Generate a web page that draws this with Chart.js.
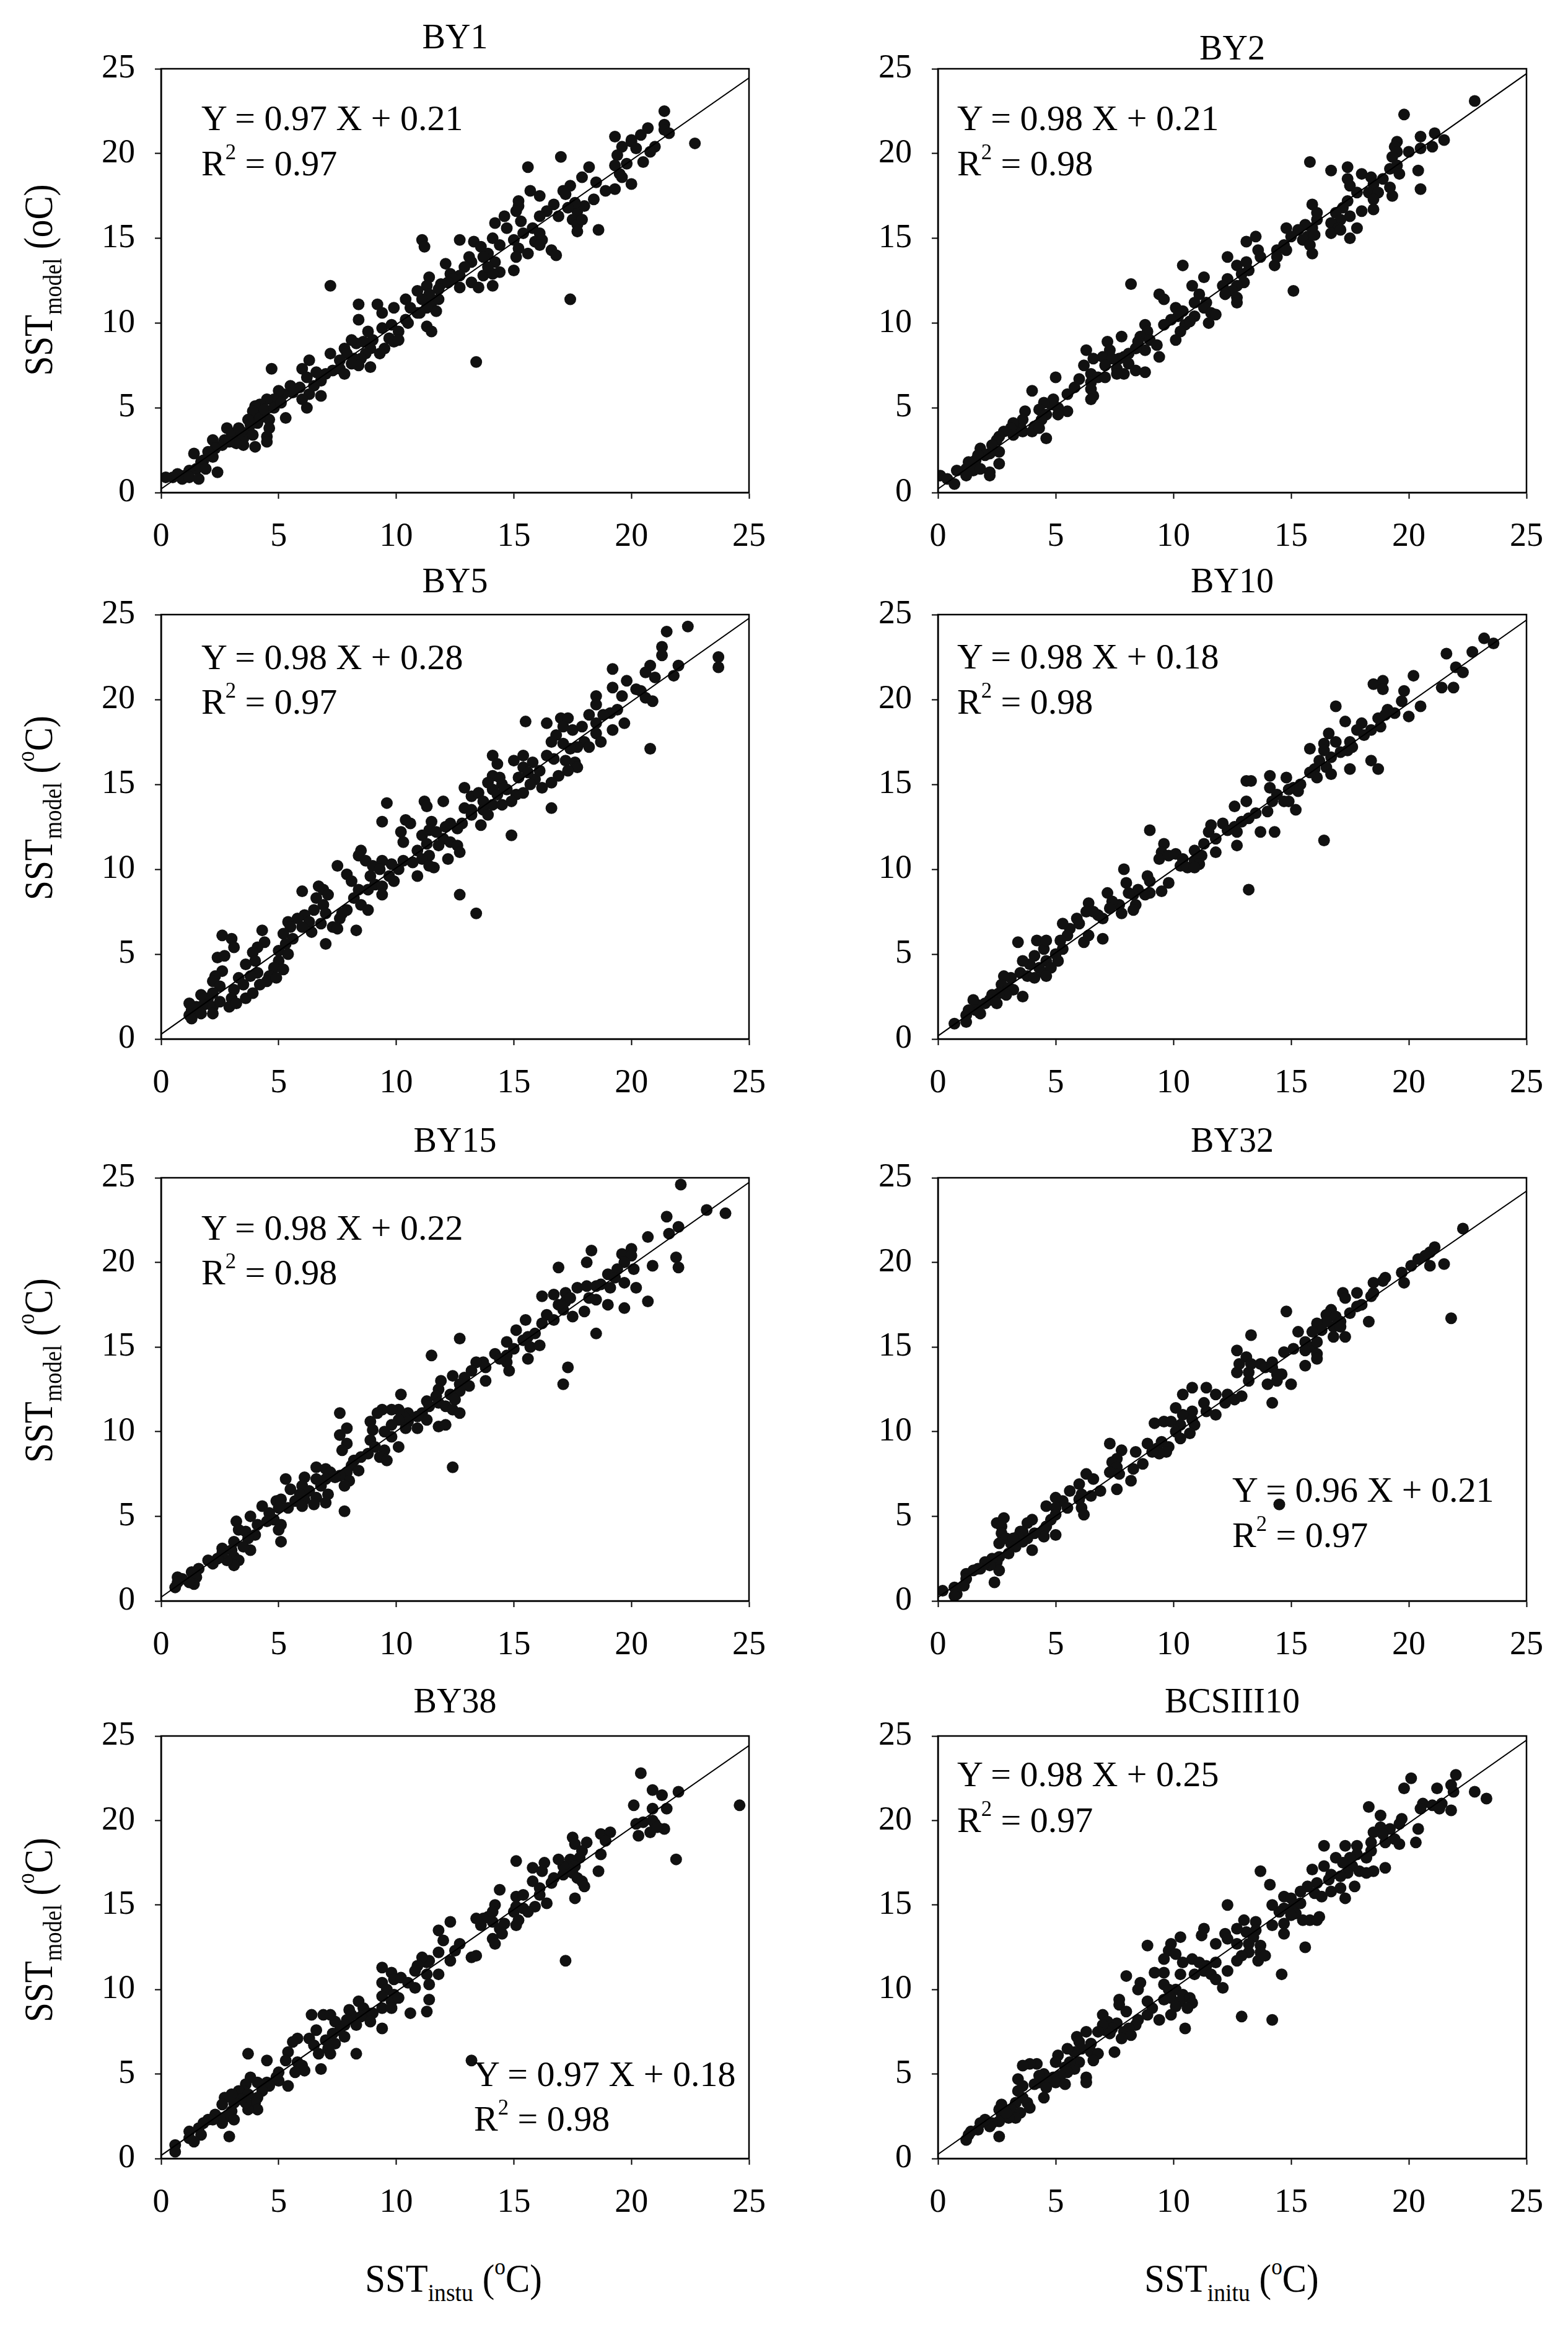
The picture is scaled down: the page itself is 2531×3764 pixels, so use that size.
<!DOCTYPE html>
<html>
<head>
<meta charset="utf-8">
<script src="https://cdn.jsdelivr.net/npm/chart.js@4.4.1/dist/chart.umd.min.js"></script>
<style>
html,body{margin:0;padding:0;background:#fff;}
#wrap{position:relative;width:2531px;height:3764px;background:#fff;overflow:hidden;}
canvas{position:absolute;}
.txt{position:absolute;font-family:'Liberation Serif','Times New Roman',serif;color:#000;white-space:nowrap;line-height:1;}
.txt sup{font-size:0.6em;vertical-align:baseline;position:relative;top:-0.75em;}
.txt sub{font-size:0.64em;vertical-align:baseline;position:relative;top:0.35em;}
</style>
</head>
<body>
<div id="wrap"></div>
<script>
// ---------------- data ----------------
const titles = ['BY1','BY2','BY5','BY10','BY15','BY32','BY38','BCSIII10'];
const slopes = [0.97,0.98,0.98,0.98,0.98,0.96,0.97,0.98];
const intercepts = [0.21,0.21,0.28,0.18,0.22,0.21,0.18,0.25];
const r2 = [0.97,0.98,0.97,0.98,0.98,0.97,0.98,0.97];
const axisMin = 0, axisMax = 25, axisStep = 5;

const by1 = [[21.4,22.5],[21.4,21.7],[21.4,21.4],[21.6,21.2],[22.7,20.6],[20.7,21.5],[20.4,21.1],[19.3,21.0],[20.0,20.8],[20.0,20.7],[21.0,20.4],[20.8,20.1],[20.5,19.5],[19.6,20.4],[19.4,19.9],[19.3,19.3],[19.8,19.4],[20.2,20.3],[19.5,18.8],[20.0,18.2],[19.6,18.6],[17.0,19.8],[15.6,19.2],[18.2,19.2],[17.9,18.6],[17.4,18.1],[17.1,17.8],[18.5,18.3],[18.9,17.8],[19.3,17.9],[18.4,17.3],[17.7,16.6],[18.0,16.9],[15.7,17.8],[16.1,17.5],[15.2,17.2],[15.2,16.9],[17.2,17.6],[17.6,17.1],[17.3,16.8],[16.7,17.0],[16.4,16.6],[16.1,16.3],[16.9,16.3],[17.5,16.1],[17.7,15.8],[17.9,16.1],[18.6,15.5],[17.7,15.4],[14.6,16.3],[14.2,15.9],[15.1,16.6],[15.3,16.0],[14.7,15.6],[15.4,15.3],[15.8,15.6],[16.1,15.3],[15.9,14.8],[16.2,14.9],[14.1,15.0],[14.4,14.6],[15.0,14.9],[15.2,14.4],[15.6,14.1],[16.1,14.6],[16.6,14.3],[16.8,14.0],[13.3,14.8],[13.6,14.5],[13.9,14.1],[14.2,13.6],[13.7,13.9],[13.2,13.6],[12.7,14.9],[11.1,14.9],[11.2,14.5],[15.1,13.9],[15.0,13.1],[14.4,13.0],[14.1,12.2],[13.1,13.9],[12.9,13.3],[12.7,12.8],[12.7,12.1],[13.2,12.4],[13.5,12.1],[13.7,12.8],[13.9,13.3],[14.1,12.9],[12.1,13.5],[12.3,12.9],[12.4,12.6],[11.9,12.3],[11.8,12.0],[12.2,12.4],[11.4,12.7],[11.3,12.2],[10.9,11.9],[11.4,11.7],[11.1,11.4],[11.5,11.2],[11.7,10.7],[11.8,11.4],[11.3,10.9],[11.0,10.6],[11.3,9.8],[11.5,9.5],[17.4,11.4],[13.4,7.7],[7.2,12.2],[8.4,11.1],[8.4,10.2],[9.2,11.1],[9.4,10.6],[9.9,10.9],[10.4,11.4],[10.6,10.9],[10.9,10.6],[10.4,10.2],[10.5,10.0],[9.4,9.7],[9.8,9.9],[10.1,9.5],[9.7,9.1],[9.9,8.9],[9.5,8.5],[10.1,9.0],[8.8,9.5],[9.0,9.0],[8.6,8.9],[8.9,8.5],[9.3,8.2],[8.7,8.2],[8.5,7.9],[8.3,8.8],[7.8,8.5],[8.1,9.0],[7.9,8.2],[8.2,7.9],[8.4,7.5],[7.6,7.8],[8.1,7.6],[8.9,7.4],[7.2,8.2],[7.3,7.2],[7.6,7.3],[7.8,7.0],[7.0,7.0],[6.8,6.6],[6.3,7.8],[6.0,7.3],[6.2,6.8],[6.6,7.1],[6.5,6.3],[6.3,5.8],[6.8,5.7],[4.7,7.3],[5.5,6.3],[5.9,6.2],[5.6,5.9],[6.0,5.5],[5.2,5.8],[5.0,6.0],[6.2,5.0],[5.3,4.4],[4.8,5.5],[4.5,5.5],[4.2,5.2],[4.0,5.1],[4.3,4.6],[4.6,4.3],[4.1,4.5],[3.9,4.8],[3.7,4.3],[4.1,4.1],[4.6,3.8],[4.5,3.3],[4.5,3.0],[4.0,2.7],[3.5,2.8],[3.1,3.3],[2.8,3.8],[3.0,3.5],[3.3,3.8],[3.6,3.5],[2.7,3.1],[2.6,2.8],[3.1,3.0],[3.5,3.2],[2.2,3.1],[2.3,2.6],[2.0,2.4],[2.2,2.1],[1.8,1.9],[1.4,2.3],[1.7,1.8],[1.5,1.4],[1.2,1.3],[1.0,1.0],[0.7,1.1],[0.5,0.9],[0.9,0.8],[1.2,0.9],[1.9,1.4],[2.4,1.2],[1.6,0.8],[0.2,0.9],[3.8,4.0],[4.2,4.4],[3.4,3.6],[3.9,3.4],[4.4,4.9],[4.8,5.0],[5.1,5.3],[3.2,2.9],[2.9,3.0]];

const by2 = [[22.8,23.1],[19.8,22.3],[21.1,21.2],[20.5,21.0],[21.5,20.8],[21.0,20.4],[20.5,20.3],[19.5,20.7],[19.4,20.4],[19.5,20.1],[20.0,20.1],[19.3,19.8],[19.5,19.3],[19.2,19.1],[19.6,18.8],[20.4,19.0],[20.5,17.9],[15.8,19.5],[16.7,19.0],[17.4,19.2],[18.0,18.8],[17.4,18.5],[17.5,18.1],[18.4,18.6],[18.5,18.2],[18.9,18.5],[18.3,17.7],[18.7,17.7],[19.2,18.0],[19.3,17.5],[17.8,17.7],[17.4,17.2],[18.5,17.3],[18.0,16.6],[18.5,16.7],[15.9,17.0],[17.2,16.8],[16.9,16.5],[17.1,16.1],[16.7,15.9],[17.0,15.6],[17.5,16.3],[17.8,15.6],[16.7,15.3],[17.1,15.5],[17.5,15.0],[16.1,16.5],[16.1,16.1],[15.9,15.6],[15.6,15.8],[15.3,15.5],[15.7,15.1],[16.0,15.2],[14.8,15.6],[15.0,15.1],[15.5,14.9],[15.8,14.6],[15.9,14.1],[13.5,15.1],[13.1,14.8],[13.6,14.3],[13.7,13.9],[14.4,14.3],[14.7,14.6],[14.8,14.3],[14.4,13.9],[14.3,13.4],[15.1,11.9],[12.3,13.9],[12.7,13.4],[13.1,13.6],[13.2,13.1],[12.9,12.9],[13.0,12.4],[12.7,12.2],[12.5,11.9],[12.3,12.6],[12.1,12.2],[12.2,11.7],[12.7,11.5],[12.7,11.2],[10.4,13.4],[11.3,12.7],[8.2,12.3],[9.4,11.7],[9.6,11.4],[10.8,12.2],[11.1,11.7],[10.9,11.2],[11.4,11.2],[11.3,10.9],[11.6,10.6],[11.8,10.5],[11.5,10.0],[10.1,10.9],[10.4,10.7],[10.2,10.4],[9.9,10.2],[10.5,9.9],[10.3,9.5],[10.1,9.0],[10.9,10.4],[10.7,10.1],[9.6,9.9],[8.8,9.9],[8.9,9.5],[8.6,9.2],[8.5,8.9],[9.0,9.0],[9.3,8.7],[9.4,8.0],[8.8,8.4],[8.4,8.5],[8.1,8.2],[7.8,9.2],[7.9,8.0],[8.1,7.6],[7.7,7.9],[8.4,7.2],[8.8,7.1],[7.2,8.9],[7.3,8.4],[7.0,8.0],[7.4,7.9],[7.1,7.5],[7.6,7.3],[7.9,7.0],[7.6,7.0],[6.3,8.4],[6.6,7.9],[6.2,7.5],[6.5,7.0],[6.8,6.8],[7.1,6.8],[6.5,6.5],[6.5,6.1],[6.6,5.7],[6.5,5.5],[6.0,6.7],[5.8,6.2],[5.5,5.8],[5.5,4.8],[5.0,6.8],[4.9,5.5],[5.1,5.0],[5.1,4.6],[4.8,5.2],[4.5,5.3],[4.3,4.9],[4.6,4.6],[4.4,4.3],[4.1,3.9],[4.0,6.0],[3.7,4.8],[3.6,4.3],[3.5,3.9],[3.2,4.1],[3.1,3.8],[2.8,3.6],[2.6,3.3],[3.2,3.4],[3.6,3.6],[4.0,3.6],[4.3,3.8],[4.6,3.2],[2.5,3.1],[2.6,2.4],[2.3,2.8],[2.2,2.3],[1.8,2.6],[2.0,2.2],[1.6,1.9],[1.3,1.8],[1.2,1.4],[1.5,1.3],[1.8,1.4],[2.2,1.2],[2.6,1.7],[2.2,1.0],[0.8,1.3],[1.2,1.0],[0.7,0.5],[0.1,1.0],[0.4,0.8],[1.7,2.2]];

const by5 = [[22.4,24.3],[21.5,24.0],[21.3,23.1],[21.3,22.6],[23.7,22.5],[23.7,21.9],[19.2,21.8],[20.8,22.0],[20.6,21.6],[21.0,21.3],[21.8,21.4],[22.0,22.0],[19.8,21.1],[20.2,20.6],[19.6,20.2],[20.6,20.1],[20.9,19.9],[19.2,20.7],[20.4,20.5],[18.5,20.2],[18.5,19.7],[19.1,19.2],[19.4,19.4],[18.8,19.1],[18.2,19.1],[20.8,17.1],[15.5,18.7],[16.4,18.6],[17.0,18.9],[17.3,18.9],[17.1,18.4],[17.5,18.2],[17.9,18.4],[18.5,18.6],[19.2,18.2],[19.7,18.6],[18.5,18.0],[18.7,17.5],[18.0,17.5],[17.7,17.2],[18.2,17.2],[16.8,17.9],[16.6,17.5],[17.1,17.4],[17.4,17.1],[16.4,16.7],[16.7,16.5],[17.2,16.4],[17.6,16.3],[17.7,16.0],[17.3,15.8],[16.9,15.5],[16.6,15.1],[16.2,14.8],[15.9,15.3],[16.1,15.8],[16.6,13.6],[15.4,16.7],[15.0,16.4],[15.4,16.0],[15.8,16.3],[15.6,15.7],[15.2,15.4],[15.7,15.0],[15.4,14.5],[15.1,14.4],[14.7,14.7],[14.5,15.0],[14.1,14.7],[14.3,14.4],[14.9,14.0],[14.1,16.7],[14.3,16.2],[14.1,15.5],[14.4,15.4],[13.9,15.1],[12.9,14.8],[13.2,14.3],[13.5,14.5],[13.7,14.0],[14.1,13.8],[14.5,13.8],[13.7,13.5],[13.9,13.2],[13.6,12.6],[13.2,13.5],[12.9,13.6],[13.2,13.2],[12.8,12.7],[12.6,12.4],[14.9,12.0],[9.6,13.9],[11.2,14.0],[11.3,13.7],[12.0,14.0],[9.4,12.8],[10.4,12.9],[10.6,12.7],[11.5,12.8],[11.4,12.3],[11.7,12.2],[12.1,12.5],[12.3,12.7],[12.0,11.8],[12.3,11.6],[12.6,11.4],[12.7,11.0],[12.2,10.6],[10.2,12.2],[10.3,11.6],[11.1,12.0],[11.3,11.5],[10.9,11.1],[11.4,10.8],[11.1,10.6],[11.8,11.4],[11.6,10.1],[11.4,10.2],[10.9,9.6],[10.7,10.4],[10.3,10.5],[10.1,10.0],[9.8,10.3],[9.4,10.5],[9.7,9.6],[9.9,9.3],[12.7,8.5],[13.4,7.4],[8.5,11.1],[8.4,10.8],[8.7,10.5],[9.0,10.2],[9.3,10.0],[8.9,9.6],[9.1,9.1],[8.8,8.8],[9.4,9.0],[9.4,8.5],[7.5,10.2],[7.9,9.7],[8.1,9.3],[8.4,8.8],[8.2,8.3],[8.5,7.9],[8.8,7.6],[7.9,7.6],[7.7,7.4],[7.6,7.1],[7.3,6.6],[7.5,6.5],[8.3,6.4],[7.0,5.6],[6.7,9.0],[6.9,8.8],[7.1,8.5],[6.6,8.3],[6.9,7.9],[6.5,7.6],[6.1,7.3],[6.3,6.9],[5.8,7.1],[6.0,6.6],[6.4,6.3],[6.8,6.8],[7.0,7.4],[6.0,8.7],[5.4,6.9],[5.5,6.6],[5.2,6.2],[5.6,5.9],[5.3,5.6],[5.0,5.2],[5.4,5.0],[5.0,4.6],[4.8,4.2],[5.2,4.1],[4.6,3.7],[4.5,3.4],[4.9,3.6],[4.3,6.4],[4.4,5.7],[4.1,5.4],[3.9,5.1],[4.0,4.6],[3.6,4.4],[4.1,3.9],[3.8,3.7],[4.2,3.2],[3.5,3.2],[3.3,3.6],[3.1,2.9],[3.0,2.4],[2.9,1.9],[3.2,2.1],[3.6,2.4],[3.9,2.7],[2.6,6.1],[3.0,5.9],[2.4,4.8],[3.1,5.4],[2.7,4.9],[2.6,4.0],[2.3,3.7],[2.2,3.4],[2.5,3.1],[2.2,2.7],[2.0,2.4],[1.8,2.0],[2.2,1.9],[2.5,2.2],[1.7,2.6],[1.5,1.9],[1.3,1.7],[1.2,2.1],[1.2,1.4],[1.3,1.2],[1.7,1.5],[2.2,1.5]];

const by10 = [[23.2,23.6],[23.6,23.3],[21.6,22.7],[22.7,22.8],[22.0,21.9],[22.3,21.6],[20.2,21.4],[18.5,20.9],[18.9,21.1],[18.9,20.6],[21.4,20.7],[21.9,20.7],[19.8,20.5],[16.9,19.6],[20.5,19.6],[19.7,19.9],[20.0,19.0],[19.4,19.2],[19.1,19.4],[17.3,18.7],[18.0,18.6],[18.7,18.9],[19.0,19.1],[18.8,18.4],[18.4,18.2],[17.8,18.2],[18.1,17.9],[16.6,18.0],[16.4,17.4],[16.9,17.5],[17.5,17.5],[17.4,17.0],[17.1,16.9],[16.7,16.6],[16.4,17.0],[15.8,17.1],[17.6,17.2],[18.4,16.4],[18.7,15.9],[17.5,15.9],[16.2,16.4],[16.0,15.9],[16.5,16.0],[16.7,15.6],[16.1,15.4],[15.8,15.7],[15.4,15.0],[15.1,14.8],[15.3,14.6],[14.9,14.7],[13.1,15.2],[13.3,15.2],[14.1,15.5],[14.8,15.4],[14.1,14.8],[14.4,14.4],[14.2,14.0],[14.7,14.0],[14.9,14.0],[15.2,13.5],[13.1,14.0],[12.6,13.7],[13.5,13.3],[13.2,13.0],[14.0,13.4],[12.9,12.8],[12.6,12.5],[12.7,12.2],[12.1,12.7],[12.3,12.3],[11.6,12.6],[11.5,12.2],[11.8,11.8],[11.3,11.5],[11.8,11.0],[12.7,11.4],[13.7,12.2],[14.3,12.2],[16.4,11.7],[13.2,8.8],[9.0,12.3],[9.6,11.5],[9.5,11.0],[9.4,10.6],[9.8,10.8],[10.1,10.9],[10.4,10.6],[10.3,10.2],[10.6,10.1],[10.9,10.5],[10.9,11.1],[11.2,10.8],[11.1,10.3],[10.9,10.1],[8.9,9.6],[9.0,9.3],[9.8,9.2],[9.5,8.7],[9.0,8.6],[8.8,8.5],[8.5,8.8],[8.3,8.5],[8.0,9.2],[8.1,8.6],[7.9,10.0],[8.4,7.9],[8.3,7.6],[7.7,7.9],[7.8,7.4],[7.2,8.6],[7.4,8.1],[7.3,7.7],[7.0,7.1],[6.8,7.3],[6.6,7.5],[6.4,8.0],[6.3,7.5],[5.9,7.1],[6.0,6.8],[5.6,6.5],[5.3,6.8],[5.5,6.1],[5.2,5.8],[5.3,5.3],[5.0,5.0],[5.1,4.6],[6.2,5.7],[6.4,6.1],[7.0,5.9],[4.6,4.6],[4.5,5.3],[4.2,5.8],[4.6,5.8],[4.3,4.2],[4.1,4.9],[3.9,4.4],[3.6,4.6],[3.5,3.9],[3.8,3.7],[4.1,3.6],[4.5,3.9],[4.8,4.2],[4.6,3.7],[3.4,5.7],[3.1,3.6],[2.8,3.7],[2.7,3.2],[3.0,3.0],[3.2,2.9],[2.9,2.6],[2.6,2.7],[2.3,2.6],[2.2,2.3],[2.5,2.1],[2.0,2.1],[3.6,2.5],[1.7,2.0],[1.5,2.3],[1.6,1.7],[1.3,1.7],[1.2,1.4],[1.8,1.5],[1.2,1.0],[0.7,0.9]];

const by15 = [[22.1,24.6],[23.2,23.1],[24.0,22.9],[21.5,22.7],[22.0,22.1],[21.6,21.7],[20.7,21.5],[18.3,20.7],[19.6,20.5],[20.0,20.8],[20.0,20.4],[18.1,20.0],[16.9,19.7],[20.9,19.8],[21.9,20.3],[22.0,19.7],[20.1,19.6],[19.7,20.0],[19.4,19.6],[19.0,19.3],[19.3,19.1],[19.7,18.8],[19.1,18.5],[20.2,18.5],[20.7,17.7],[19.7,17.3],[19.0,17.5],[16.2,18.0],[16.7,18.1],[17.2,18.2],[17.7,18.5],[18.1,18.6],[18.5,18.6],[18.7,18.7],[18.2,17.9],[18.5,17.8],[18.0,17.1],[17.5,16.8],[17.1,17.2],[17.2,17.7],[16.9,17.5],[16.7,16.6],[16.4,16.9],[17.4,17.9],[18.5,15.8],[15.5,16.6],[16.2,16.4],[15.1,16.0],[15.6,15.6],[15.9,15.8],[15.4,15.4],[15.7,15.0],[16.1,15.1],[15.6,14.3],[14.7,15.3],[15.0,14.9],[14.7,14.5],[14.7,14.1],[14.8,13.6],[17.3,13.8],[17.1,12.8],[12.7,15.5],[11.5,14.5],[14.2,14.6],[14.4,14.3],[13.7,14.1],[13.4,14.1],[13.8,13.8],[13.2,13.6],[13.8,13.0],[12.9,13.2],[12.7,12.8],[12.4,13.3],[13.1,12.7],[12.7,12.4],[12.3,12.2],[11.9,13.0],[11.8,12.5],[11.7,12.1],[11.8,11.7],[12.1,11.5],[12.5,11.9],[12.4,11.3],[12.7,11.1],[12.4,7.9],[10.2,12.2],[11.3,11.8],[11.4,11.5],[11.1,11.1],[11.3,10.7],[10.9,10.9],[10.5,11.1],[10.3,10.9],[10.1,11.3],[9.8,11.3],[9.4,11.3],[9.2,11.1],[10.5,10.6],[10.9,10.2],[10.4,10.2],[10.1,10.7],[11.8,10.3],[12.1,10.4],[9.8,10.4],[9.5,10.0],[9.8,9.7],[10.1,9.1],[9.5,8.9],[9.3,8.5],[9.6,8.3],[7.6,11.1],[7.9,10.2],[7.6,9.8],[7.9,9.3],[7.7,8.9],[8.9,10.6],[9.0,10.1],[8.9,9.5],[9.1,9.1],[8.8,8.7],[8.5,8.5],[8.2,8.3],[8.1,8.0],[8.4,7.7],[7.9,7.6],[8.0,7.1],[7.6,7.4],[7.8,6.8],[7.8,5.3],[6.6,7.9],[7.0,7.8],[7.2,7.6],[7.4,7.3],[7.0,7.2],[6.6,7.2],[6.1,7.3],[6.0,6.8],[6.3,6.5],[6.8,6.8],[7.1,6.3],[6.6,6.1],[6.1,6.0],[7.0,5.8],[6.5,5.7],[5.3,7.2],[5.5,6.6],[5.9,6.3],[5.7,5.9],[5.4,5.5],[6.0,5.6],[4.3,5.6],[4.9,5.9],[5.1,6.0],[5.0,5.5],[4.6,5.2],[4.8,4.8],[5.1,4.5],[5.0,4.2],[5.1,3.5],[4.5,4.7],[4.1,4.5],[3.8,5.0],[3.2,4.7],[3.3,4.2],[3.6,4.1],[4.0,3.9],[3.7,3.7],[3.8,3.0],[3.5,3.2],[3.1,3.5],[3.0,3.0],[3.1,2.6],[3.3,2.4],[3.1,2.1],[2.8,2.4],[2.6,3.1],[2.6,2.8],[2.4,2.5],[2.2,2.2],[2.0,2.4],[1.6,1.9],[1.3,1.7],[1.5,1.4],[1.4,1.0],[1.2,1.1],[0.9,1.3],[0.7,1.4],[0.6,0.8],[0.7,1.1]];

const by32 = [[22.3,22.0],[21.1,20.9],[20.9,20.6],[20.7,20.4],[20.9,19.8],[21.5,19.9],[21.8,16.7],[20.4,20.2],[20.1,19.8],[19.7,19.4],[19.8,18.8],[19.0,19.1],[18.9,18.9],[18.5,18.8],[18.5,18.2],[18.4,18.0],[17.8,18.2],[17.2,18.2],[17.3,17.9],[18.0,17.5],[17.8,17.4],[17.5,17.0],[18.3,16.5],[14.8,17.1],[16.7,17.2],[16.5,16.9],[16.9,16.8],[17.1,16.5],[16.8,16.2],[16.5,16.5],[16.1,16.4],[16.3,16.0],[17.1,16.2],[17.3,15.6],[16.8,15.6],[15.9,15.9],[15.6,15.3],[15.9,15.0],[16.1,15.3],[15.6,14.8],[16.1,14.6],[16.1,14.3],[15.6,13.9],[15.3,15.9],[15.1,14.9],[14.7,14.7],[13.3,15.7],[12.7,14.8],[13.1,14.4],[12.8,14.0],[12.7,13.5],[13.3,14.0],[13.7,14.0],[13.2,13.5],[13.2,13.0],[13.9,13.8],[14.2,14.1],[14.2,13.8],[14.4,13.4],[14.6,13.4],[14.0,12.8],[14.4,13.0],[15.0,12.8],[14.2,11.7],[14.5,5.7],[10.4,12.2],[10.8,12.6],[11.4,12.6],[11.8,12.2],[12.3,12.2],[12.6,11.9],[12.9,12.1],[12.2,11.7],[11.3,11.7],[11.4,11.2],[11.8,11.0],[10.8,11.2],[10.4,11.0],[10.1,11.4],[10.8,10.7],[10.9,10.4],[10.3,10.4],[10.1,10.0],[10.3,9.6],[10.7,9.9],[9.2,10.5],[9.6,10.6],[9.9,10.6],[8.9,9.3],[9.3,9.0],[9.5,9.4],[9.8,9.1],[9.7,8.8],[9.4,8.7],[9.1,8.8],[8.7,8.1],[8.4,8.8],[7.8,8.9],[7.6,8.4],[7.3,9.3],[7.4,8.2],[7.6,7.9],[7.3,7.6],[7.7,7.5],[7.6,6.6],[8.2,7.1],[8.3,7.8],[6.3,7.5],[6.6,7.2],[6.9,6.5],[6.5,6.2],[6.0,6.9],[6.1,6.3],[6.0,6.0],[6.1,5.5],[6.2,5.1],[5.6,6.5],[5.3,5.9],[5.5,5.5],[5.0,6.1],[5.0,5.5],[5.0,5.1],[4.8,4.8],[4.6,5.6],[4.6,4.4],[5.0,3.9],[4.5,4.2],[4.5,3.8],[4.1,4.0],[4.0,4.8],[3.8,4.6],[3.6,4.1],[3.8,3.7],[3.6,3.5],[4.0,3.0],[3.5,4.1],[3.4,3.8],[2.5,4.6],[2.8,4.9],[2.7,4.4],[2.7,4.0],[2.9,3.7],[2.6,3.4],[3.1,3.4],[3.2,3.7],[3.3,3.2],[3.0,2.8],[2.6,2.6],[2.5,2.3],[2.6,1.8],[2.4,1.1],[2.3,2.5],[2.2,2.1],[2.0,2.3],[1.8,1.9],[1.7,1.9],[1.5,1.8],[1.2,1.6],[1.2,1.3],[1.1,0.9],[0.7,0.8],[0.8,0.4],[0.7,0.3],[0.2,0.6]];

const by38 = [[20.4,22.8],[24.6,20.9],[20.9,21.8],[21.3,21.5],[22.0,21.7],[20.1,20.9],[20.9,20.7],[21.5,20.7],[21.9,17.7],[20.2,19.8],[20.5,19.9],[20.9,20.0],[21.0,19.8],[21.4,19.5],[20.3,19.1],[20.8,19.3],[21.1,19.6],[18.7,19.2],[19.1,19.3],[18.9,18.8],[18.7,18.0],[18.6,17.0],[17.5,19.0],[17.6,18.6],[18.1,18.7],[17.9,18.2],[17.8,17.8],[17.4,17.7],[17.6,17.3],[17.3,17.2],[17.1,17.3],[16.9,17.7],[17.1,16.8],[16.7,16.6],[16.6,16.3],[17.5,16.9],[17.7,16.6],[17.9,16.4],[17.6,15.4],[18.0,16.1],[16.3,17.5],[16.2,17.0],[15.8,17.2],[15.8,16.4],[16.1,16.0],[16.4,15.1],[15.9,14.9],[16.1,15.6],[15.1,17.6],[17.2,11.7],[15.1,15.5],[15.4,15.6],[15.1,14.9],[15.0,14.6],[15.4,14.8],[15.2,14.1],[15.6,14.6],[15.1,13.8],[14.4,15.9],[14.2,15.0],[14.1,14.6],[13.9,14.3],[14.1,14.0],[13.7,14.2],[13.6,13.8],[14.4,13.6],[14.5,13.3],[14.1,13.0],[14.2,12.7],[13.4,14.2],[14.6,13.9],[12.3,14.0],[11.8,13.5],[12.0,12.9],[12.7,12.7],[12.5,12.3],[12.3,11.7],[13.2,11.9],[13.4,12.0],[11.8,12.2],[11.4,11.7],[11.3,11.6],[11.1,11.9],[10.9,11.4],[10.8,11.1],[11.3,10.9],[11.8,10.9],[11.4,10.3],[11.4,9.4],[11.3,8.7],[10.6,8.6],[9.4,11.3],[9.8,11.0],[9.4,10.4],[9.9,10.6],[10.2,10.7],[10.5,10.4],[10.8,10.1],[9.6,10.0],[9.9,9.7],[9.4,9.6],[9.8,9.3],[10.1,9.5],[9.4,8.9],[9.8,8.9],[8.4,9.3],[8.6,8.9],[8.8,8.6],[9.0,8.6],[8.0,8.8],[8.1,8.5],[7.9,8.2],[8.5,8.4],[8.3,7.9],[7.8,7.9],[7.4,8.1],[7.6,7.6],[7.3,7.4],[7.8,7.2],[7.4,6.8],[7.0,7.0],[7.1,6.5],[7.2,6.2],[6.7,6.2],[6.9,8.5],[7.2,8.5],[6.4,8.5],[6.6,7.6],[6.3,7.1],[6.5,6.7],[6.8,5.3],[8.9,8.1],[9.4,7.7],[8.3,6.2],[13.2,5.8],[5.8,7.1],[5.6,6.9],[5.4,6.3],[5.3,5.8],[5.8,5.7],[6.0,5.5],[6.1,5.2],[5.7,5.1],[5.0,5.1],[5.0,4.6],[5.4,4.3],[4.5,5.8],[3.7,6.2],[4.9,4.8],[4.5,4.5],[4.6,4.3],[4.3,4.0],[4.1,4.5],[3.8,4.8],[3.6,4.4],[3.5,4.0],[3.3,4.0],[3.7,3.8],[4.1,3.6],[4.0,3.3],[4.1,2.9],[3.7,2.9],[3.6,3.3],[3.4,3.5],[3.1,3.3],[3.0,3.8],[2.7,3.6],[2.6,3.2],[3.0,2.8],[2.8,2.5],[3.1,2.3],[2.6,2.1],[2.5,2.4],[2.3,2.6],[2.2,2.3],[2.0,2.3],[1.8,2.1],[1.6,1.8],[1.7,1.4],[1.2,1.6],[1.4,1.0],[1.2,1.2],[0.6,0.8],[0.6,0.4],[2.9,1.3]];

const bcsiii10 = [[22.0,22.7],[20.1,22.5],[19.8,21.9],[21.2,21.9],[21.8,22.1],[21.9,21.7],[22.8,21.7],[23.3,21.3],[20.6,21.0],[20.5,20.7],[21.0,20.9],[21.4,21.0],[21.3,20.7],[21.8,20.6],[18.3,20.8],[18.8,20.3],[19.7,20.1],[19.6,19.8],[19.2,19.5],[18.8,19.6],[18.5,19.3],[20.4,19.5],[20.3,18.7],[19.6,18.6],[19.4,18.9],[19.0,18.7],[18.9,19.2],[16.4,18.5],[17.3,18.5],[17.8,18.5],[18.4,18.7],[18.4,18.2],[18.2,17.8],[17.8,18.0],[17.5,17.8],[16.9,17.8],[17.2,17.5],[17.6,17.3],[17.9,17.0],[17.4,16.9],[17.1,16.7],[18.5,17.0],[19.0,17.2],[18.2,16.9],[17.7,16.1],[15.9,17.1],[16.4,17.3],[16.7,16.8],[16.6,16.5],[16.1,16.3],[15.7,16.1],[15.4,15.8],[16.0,15.7],[16.3,15.5],[16.7,15.8],[17.1,16.0],[17.3,15.4],[13.7,17.0],[14.1,16.2],[14.7,15.5],[15.0,15.4],[15.1,14.9],[14.7,14.8],[14.5,14.6],[14.2,15.0],[15.4,15.1],[15.2,14.5],[15.0,14.4],[15.5,14.1],[15.8,14.1],[16.1,14.1],[16.2,14.3],[14.7,13.9],[14.7,13.3],[12.3,15.0],[13.0,14.1],[13.5,14.0],[13.5,13.5],[13.4,13.1],[13.1,13.4],[12.7,13.6],[12.2,13.3],[12.3,13.0],[11.8,12.7],[12.7,12.7],[13.2,12.7],[13.7,12.6],[13.7,12.2],[13.6,11.7],[13.9,12.0],[13.2,12.2],[12.9,12.0],[12.7,11.7],[14.2,13.8],[15.6,12.5],[14.6,10.9],[14.2,8.2],[11.3,13.6],[11.2,13.2],[10.3,13.1],[9.9,12.7],[8.9,12.6],[9.8,12.3],[10.1,12.1],[9.6,11.8],[10.4,11.6],[10.8,11.8],[11.1,11.6],[11.4,11.4],[11.8,11.6],[11.3,11.1],[10.9,10.9],[11.6,10.9],[11.8,10.6],[12.3,11.1],[12.1,10.1],[10.3,10.9],[9.6,11.0],[12.9,8.4],[10.5,7.7],[8.0,10.8],[8.6,10.4],[9.2,11.0],[8.5,10.0],[9.6,10.3],[9.8,10.0],[10.1,10.0],[10.4,9.7],[9.9,9.5],[9.6,9.4],[10.3,9.3],[10.7,9.5],[10.8,9.2],[10.6,8.9],[10.1,9.0],[9.9,8.5],[9.4,8.2],[8.9,9.3],[9.1,8.9],[8.9,8.5],[8.5,8.2],[8.4,7.9],[8.1,7.7],[7.7,9.4],[7.7,9.1],[8.0,8.7],[7.0,8.5],[7.2,8.1],[7.6,8.0],[7.4,7.7],[7.1,7.6],[7.9,7.5],[8.2,7.3],[7.8,7.1],[7.5,6.3],[7.0,7.9],[6.8,7.5],[7.3,7.4],[6.3,7.5],[5.9,7.2],[6.0,6.9],[6.5,6.8],[6.1,6.5],[5.8,6.3],[6.5,6.3],[6.8,6.2],[6.6,5.8],[6.0,5.7],[5.8,5.3],[5.5,6.5],[5.1,6.1],[5.0,5.7],[5.6,5.7],[5.4,5.4],[5.5,5.1],[5.2,4.9],[4.9,4.8],[5.0,4.5],[4.6,4.7],[4.5,5.0],[4.3,4.9],[4.3,4.5],[4.1,4.4],[4.6,4.2],[4.5,3.6],[4.2,5.6],[3.9,5.6],[3.6,5.5],[6.3,4.8],[6.3,4.5],[5.4,4.4],[3.4,4.7],[3.6,4.3],[3.4,4.0],[3.6,3.6],[3.8,3.3],[3.9,3.0],[3.3,3.3],[3.1,2.9],[3.5,2.7],[3.3,2.4],[3.0,2.4],[2.7,3.2],[2.6,2.9],[2.7,2.6],[2.6,2.2],[2.3,2.1],[2.2,1.9],[2.0,2.3],[1.8,2.1],[1.7,1.7],[1.4,1.6],[1.3,1.4],[1.2,1.1],[2.6,1.3],[2.9,2.7]];

const seriesList = [by1, by2, by5, by10, by15, by32, by38, bcsiii10];

// ---------------- layout (pixels) ----------------
const FONT = "'Liberation Serif','Times New Roman',serif";
const COLS = [{left:0,width:1265,yw:260,pr:55},{left:1265,width:1266,yw:249,pr:67}];
const ROWS = [{top:111,h:684},{top:992,h:685},{top:1901,h:683},{top:2802,h:682}];
const TOPSPACE = 150, BOTSPACE = 110;
const TITLE_CY = [63,81,941,941,1844,1844,2749,2749];
const EQ_POS = [[325,211,284],[1545,211,284],[325,1081,1153],[1545,1080,1153],[325,2002,2074],[1989,2425,2498],[765,3368,3440],[1545,2884,2958]];
const YT_CY = [452,1304,2212,3115];
const YT_CX = 62;
const XT = [{cx:732,text:'instu'},{cx:1988,text:'initu'}];
const XT_BASE = 3700;

const framePlugin = {
  id:'frame',
  afterDatasetsDraw(chart){
    const a = chart.chartArea, ctx = chart.ctx;
    ctx.save();
    ctx.strokeStyle = '#000'; ctx.lineWidth = 2.5;
    ctx.strokeRect(a.left, a.top, a.right - a.left, a.bottom - a.top);
    ctx.restore();
  }
};

const wrap = document.getElementById('wrap');

function addText(html, left, top, size, extra){
  const d = document.createElement('div');
  d.className = 'txt';
  d.style.left = left + 'px';
  d.style.top = top + 'px';
  d.style.fontSize = size + 'px';
  if (extra) Object.assign(d.style, extra);
  d.innerHTML = html;
  wrap.appendChild(d);
  return d;
}

for (let i = 0; i < 8; i++){
  const row = ROWS[Math.floor(i/2)], col = COLS[i%2];
  const cv = document.createElement('canvas');
  const W = col.width, H = TOPSPACE + row.h + BOTSPACE;
  cv.width = W; cv.height = H;
  cv.style.left = col.left + 'px';
  cv.style.top = (row.top - TOPSPACE) + 'px';
  cv.style.width = W + 'px'; cv.style.height = H + 'px';
  wrap.appendChild(cv);

  const titleSize = 56;
  const pt = TITLE_CY[i] - row.top + TOPSPACE - titleSize/2;
  const pb = TOPSPACE - titleSize - pt;
  const a = slopes[i], b = intercepts[i];
  const pts = seriesList[i].map(p => ({x:p[0], y:p[1]}));

  new Chart(cv, {
    type: 'scatter',
    data: {
      datasets: [
        { type:'line', data:[{x:axisMin, y:a*axisMin + b},{x:axisMax, y:a*axisMax + b}],
          borderColor:'#000', borderWidth:2, pointRadius:0, fill:false, tension:0 },
        { data: pts, backgroundColor:'#111', borderColor:'#111', borderWidth:0,
          pointRadius:9.5, pointHoverRadius:9.5 }
      ]
    },
    options: {
      responsive:false, animation:false, devicePixelRatio:1,
      layout:{padding:{left:0, right:col.pr, top:0, bottom:0}},
      plugins:{
        legend:{display:false}, tooltip:{enabled:false},
        title:{display:true, text:titles[i], fullSize:false, color:'#000',
               font:{family:FONT, size:titleSize, weight:'normal', lineHeight:1},
               padding:{top:pt, bottom:pb}}
      },
      scales:{
        x:{type:'linear', min:axisMin, max:axisMax,
           ticks:{stepSize:axisStep, color:'#000', font:{family:FONT, size:54}, padding:29, maxRotation:0, autoSkip:false},
           grid:{drawOnChartArea:false, drawTicks:true, tickLength:10, tickWidth:2, color:'#000'},
           border:{display:true, color:'#000', width:2.5},
           afterFit(s){ s.height = BOTSPACE; }},
        y:{type:'linear', min:axisMin, max:axisMax,
           ticks:{stepSize:axisStep, color:'#000', font:{family:FONT, size:54}, padding:32},
           grid:{drawOnChartArea:false, drawTicks:true, tickLength:10, tickWidth:2, color:'#000'},
           border:{display:true, color:'#000', width:2.5},
           afterFit(s){ s.width = col.yw; }}
      }
    },
    plugins:[framePlugin]
  });

  // regression equation
  const eqSize = 58, asc = 0.8375*eqSize;
  const ep = EQ_POS[i];
  addText('Y = ' + slopes[i].toFixed(2) + ' X + ' + intercepts[i].toFixed(2), ep[0], ep[1] - asc, eqSize);
  addText('R<sup>2</sup> = ' + r2[i].toFixed(2), ep[0], ep[2] - asc, eqSize);
}

// y-axis titles (left column)
for (let r = 0; r < 4; r++){
  const unit = r === 0 ? ' (oC)' : ' (<sup>o</sup>C)';
  addText('SST<sub>model</sub>' + unit, YT_CX - 400, YT_CY[r] - 40, 65,
          {width:'800px', height:'80px', lineHeight:'80px', textAlign:'center', transform:'rotate(-90deg) scaleX(0.88)'});
}
// x-axis titles (bottom)
for (const t of XT){
  const size = 64;
  addText('SST<sub>' + t.text + '</sub> (<sup>o</sup>C)', t.cx - 400, XT_BASE - 0.8375*size, size,
          {width:'800px', textAlign:'center', transform:'scaleX(0.92)'});
}
</script>
</body>
</html>
